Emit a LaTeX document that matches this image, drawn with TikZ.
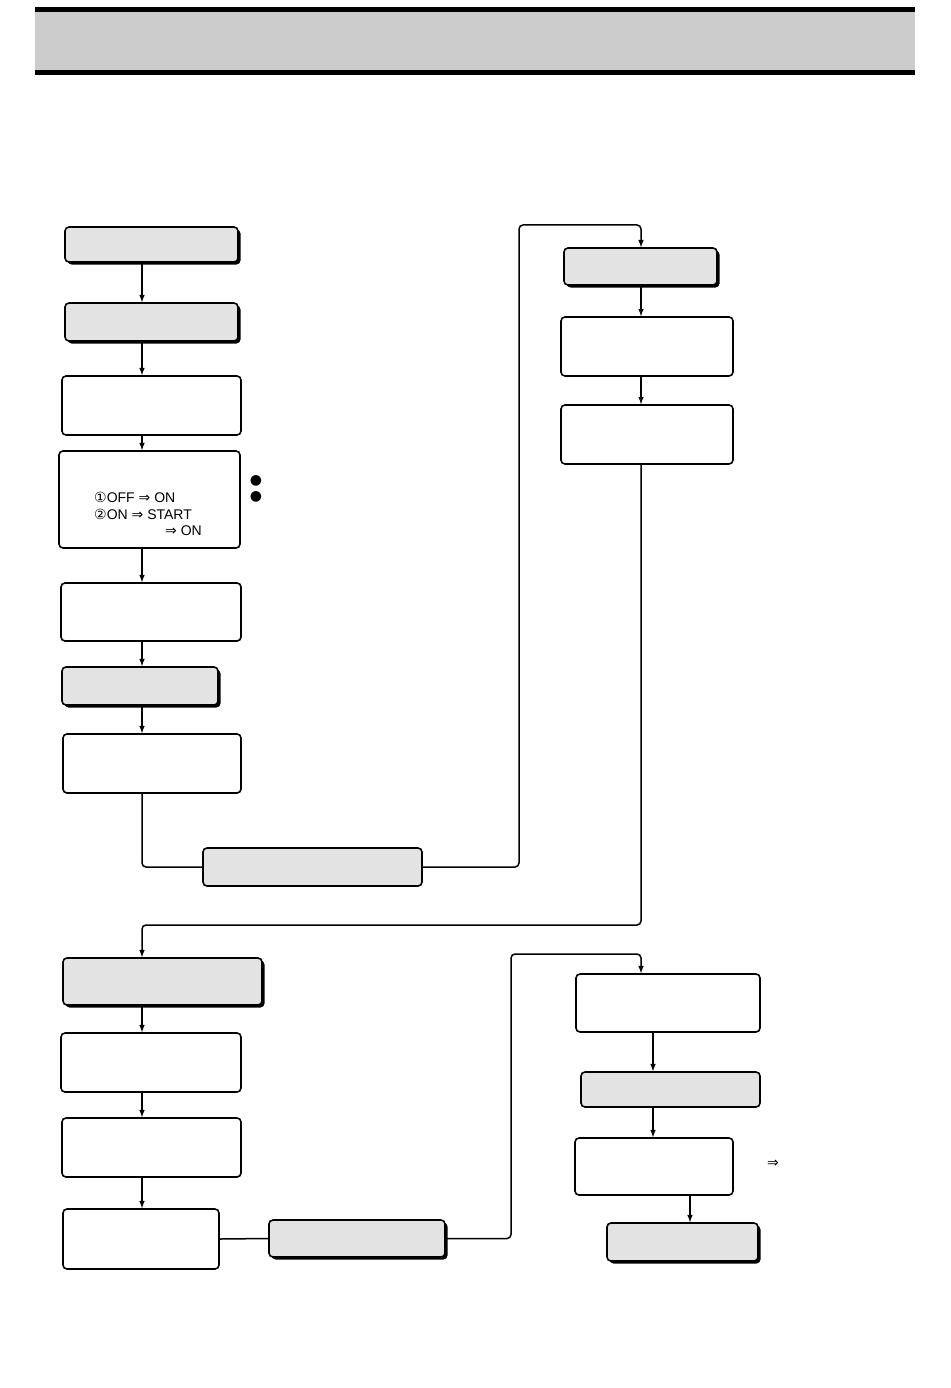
\documentclass[tikz,border=0pt]{standalone}
\usepackage{fontspec}
\setmainfont{Liberation Sans}
\newfontfamily\symfont{DejaVu Sans}
\usetikzlibrary{shadows}

\begin{document}
\begin{tikzpicture}[x=1pt, y=-1pt,
  graybox/.style={rectangle, rounded corners=4pt, draw=black, line width=1.6pt, fill=black!11},
  grayshadow/.style={graybox, drop shadow={shadow xshift=2.5pt, shadow yshift=-2.5pt, fill=black, opacity=1}},
  whitebox/.style={rectangle, rounded corners=4pt, draw=black, line width=1.6pt, fill=white},
  arrow/.style={-latex, line width=1.5pt, draw=black},
  link/.style={line width=1.5pt, draw=black, rounded corners=4pt},
  txt/.style={font=\fontsize{14}{17}\selectfont, inner sep=0pt}]

\useasboundingbox (0,0) rectangle (950,1388);

% header band
\fill [black!20] (35,10) rectangle (915,73);
\draw [line width=5pt] (35,10) -- (915,10);
\draw [line width=5pt] (35,73) -- (915,73);

\coordinate (c1) at (142,0);
\coordinate (c2) at (641,0);
\coordinate (c3) at (653,0);
\coordinate (c4) at (690,0);

% left column, top
\node [grayshadow, minimum width=173pt, minimum height=35pt] (A1) at (151.5,244.5) {};
\node [grayshadow, minimum width=173pt, minimum height=38pt] (A2) at (151.5,322) {};
\node [whitebox, minimum width=179pt, minimum height=59pt] (A3) at (151.5,405.5) {};
\node [whitebox, minimum width=181pt, minimum height=97pt] (A4) at (149.5,499.5) {};
\node [whitebox, minimum width=180pt, minimum height=58pt] (A5) at (151,612) {};
\node [grayshadow, minimum width=156pt, minimum height=38pt] (A6) at (140,686) {};
\node [whitebox, minimum width=178pt, minimum height=59pt] (A7) at (152,763.5) {};
\node [graybox, minimum width=219pt, minimum height=38pt] (B1) at (312.5,867) {};

\node [txt, anchor=west] (sw1) at (94,497) {{\symfont ①}OFF {\symfont ⇒} ON};
\node [txt, anchor=west] (sw2) at (94,514) {{\symfont ②}ON {\symfont ⇒} START};
\node [txt, anchor=west] (sw3) at (165,531) {{\symfont ⇒} ON};
\node [txt] (dot1) at (256,481) {{\symfont ●}};
\node [txt] (dot2) at (256,497) {{\symfont ●}};

% right column, top
\node [grayshadow, minimum width=153pt, minimum height=37pt] (C1) at (640.5,266.5) {};
\node [whitebox, minimum width=172pt, minimum height=59pt] (C2) at (647,346.5) {};
\node [whitebox, minimum width=172pt, minimum height=59pt] (C3) at (647,434.5) {};

% left column, bottom
\node [grayshadow, minimum width=199pt, minimum height=47pt] (D1) at (162.5,981.5) {};
\node [whitebox, minimum width=180pt, minimum height=59pt] (D2) at (151,1062.5) {};
\node [whitebox, minimum width=179pt, minimum height=59pt] (D3) at (151.5,1147.5) {};
\node [whitebox, minimum width=156pt, minimum height=60pt] (D4) at (141,1239) {};
\node [grayshadow, minimum width=176pt, minimum height=37pt] (E1) at (357,1238.5) {};

% right column, bottom
\node [whitebox, minimum width=184pt, minimum height=58pt] (F1) at (668,1003) {};
\node [graybox, minimum width=179pt, minimum height=35pt] (F2) at (670.5,1089.5) {};
\node [whitebox, minimum width=158pt, minimum height=57pt] (F3) at (654,1166.5) {};
\node [grayshadow, minimum width=151pt, minimum height=38pt] (F4) at (682.5,1242) {};
\node [txt] (imp) at (773,1164) {{\symfont ⇒}};

\coordinate (turn1) at (519,225);
\coordinate (turn2) at (142,925);
\coordinate (turn3) at (511,954);

\draw [arrow] (A1.south -| c1) -- (A2.north -| c1);
\draw [arrow] (A2.south -| c1) -- (A3.north -| c1);
\draw [arrow] (A3.south -| c1) -- (A4.north -| c1);
\draw [arrow] (A4.south -| c1) -- (A5.north -| c1);
\draw [arrow] (A5.south -| c1) -- (A6.north -| c1);
\draw [arrow] (A6.south -| c1) -- (A7.north -| c1);
\draw [link] (A7.south -| c1) |- (B1.west);
\draw [arrow, rounded corners=4pt] (B1.east) -| (turn1) -| (C1.north -| c2);

\draw [arrow] (C1.south -| c2) -- (C2.north -| c2);
\draw [arrow] (C2.south -| c2) -- (C3.north -| c2);
\draw [arrow, rounded corners=4pt] (C3.south -| c2) |- (turn2) -- (D1.north -| c1);

\draw [arrow] (D1.south -| c1) -- (D2.north -| c1);
\draw [arrow] (D2.south -| c1) -- (D3.north -| c1);
\draw [arrow] (D3.south -| c1) -- (D4.north -| c1);
\draw [link] (D4.east) -- (E1.west);
\draw [arrow, rounded corners=4pt] (E1.east) -| (turn3) -| (F1.north -| c2);

\draw [arrow] (F1.south -| c3) -- (F2.north -| c3);
\draw [arrow] (F2.south -| c3) -- (F3.north -| c3);
\draw [arrow] (F3.south -| c4) -- (F4.north -| c4);

\end{tikzpicture}
\end{document}
